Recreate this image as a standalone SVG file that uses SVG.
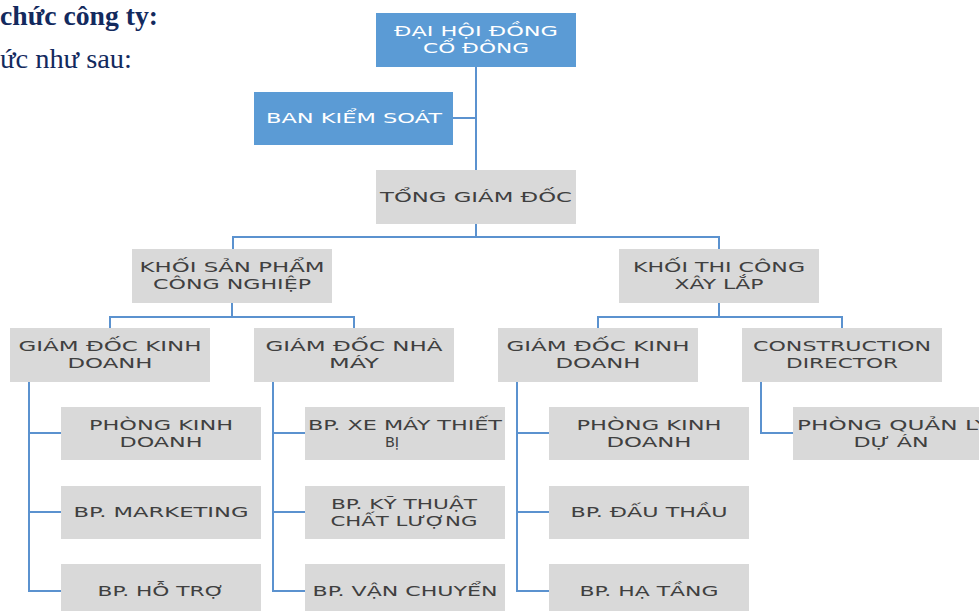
<svg xmlns="http://www.w3.org/2000/svg" width="979" height="611" viewBox="0 0 979 611">
<style>
.blue{fill:#5B9BD5}
.gray{fill:#D9D9D9}
.t{font-family:"DejaVu Sans","Liberation Sans",sans-serif;font-size:14.5px;text-anchor:middle;fill:#404040}
.w{fill:#FFFFFF}
.c{fill:none;stroke:#5B92CF;stroke-width:2}
.h1{font-family:"Liberation Serif",serif;font-weight:bold;font-size:28px;fill:#132A5E}
.h2{font-family:"Liberation Serif",serif;font-size:28px;fill:#132A5E}
</style>
<rect width="979" height="611" fill="#FFFFFF"/>
<g id="heading">
<text class="h1" x="0" y="25" textLength="158" lengthAdjust="spacingAndGlyphs">chức công ty:</text>
<text class="h2" x="0" y="68" textLength="132" lengthAdjust="spacingAndGlyphs">ức như sau:</text>
</g>
<g id="connectors">
<path class="c" d="M476 67V170M453 118H476"/>
<path class="c" d="M476 224V237M233 249V237H719V249"/>
<path class="c" d="M232 303V317M110 328V317H354V328"/>
<path class="c" d="M719 303V317M598 328V317H842V328"/>
<path class="c" d="M29 382V591H61M29 433H61M29 512H61"/>
<path class="c" d="M273 382V591H305M273 433H305M273 512H305"/>
<path class="c" d="M517 382V591H549M517 433H549M517 512H549"/>
<path class="c" d="M761 382V433H793"/>
</g>
<g id="dhdcd"><rect class="blue" x="376" y="13" width="200" height="54"/>
<text class="t w" x="476" y="36" textLength="164" lengthAdjust="spacingAndGlyphs">ĐẠI HỘI ĐỒNG</text>
<text class="t w" x="476" y="53" textLength="106" lengthAdjust="spacingAndGlyphs">CỔ ĐÔNG</text></g>
<g id="bks"><rect class="blue" x="254" y="92" width="199" height="53"/>
<text class="t w" x="354" y="123" textLength="176" lengthAdjust="spacingAndGlyphs">BAN KIỂM SOÁT</text></g>
<g id="tgd"><rect class="gray" x="376" y="170" width="200" height="54"/>
<text class="t" x="476" y="202" textLength="192" lengthAdjust="spacingAndGlyphs">TỔNG GIÁM ĐỐC</text></g>
<g id="kspcn"><rect class="gray" x="132" y="249" width="200" height="54"/>
<text class="t" x="232" y="272" textLength="185" lengthAdjust="spacingAndGlyphs">KHỐI SẢN PHẨM</text>
<text class="t" x="232" y="289" textLength="158" lengthAdjust="spacingAndGlyphs">CÔNG NGHIỆP</text></g>
<g id="ktcxl"><rect class="gray" x="619" y="249" width="200" height="54"/>
<text class="t" x="719" y="272" textLength="172" lengthAdjust="spacingAndGlyphs">KHỐI THI CÔNG</text>
<text class="t" x="719" y="289" textLength="89" lengthAdjust="spacingAndGlyphs">XÂY LẮP</text></g>
<g id="gdkd1"><rect class="gray" x="10" y="328" width="200" height="54"/>
<text class="t" x="110" y="351" textLength="183" lengthAdjust="spacingAndGlyphs">GIÁM ĐỐC KINH</text>
<text class="t" x="110" y="368" textLength="85" lengthAdjust="spacingAndGlyphs">DOANH</text></g>
<g id="gdnm"><rect class="gray" x="254" y="328" width="200" height="54"/>
<text class="t" x="354" y="351" textLength="177" lengthAdjust="spacingAndGlyphs">GIÁM ĐỐC NHÀ</text>
<text class="t" x="354" y="368" textLength="50" lengthAdjust="spacingAndGlyphs">MÁY</text></g>
<g id="gdkd2"><rect class="gray" x="498" y="328" width="200" height="54"/>
<text class="t" x="598" y="351" textLength="183" lengthAdjust="spacingAndGlyphs">GIÁM ĐỐC KINH</text>
<text class="t" x="598" y="368" textLength="85" lengthAdjust="spacingAndGlyphs">DOANH</text></g>
<g id="cd"><rect class="gray" x="742" y="328" width="200" height="54"/>
<text class="t" x="842" y="351" textLength="178" lengthAdjust="spacingAndGlyphs">CONSTRUCTION</text>
<text class="t" x="842" y="368" textLength="112" lengthAdjust="spacingAndGlyphs">DIRECTOR</text></g>
<g id="pkd1"><rect class="gray" x="61" y="407" width="200" height="53"/>
<text class="t" x="161" y="430" textLength="144" lengthAdjust="spacingAndGlyphs">PHÒNG KINH</text>
<text class="t" x="161" y="447" textLength="83" lengthAdjust="spacingAndGlyphs">DOANH</text></g>
<g id="mkt"><rect class="gray" x="61" y="486" width="200" height="53"/>
<text class="t" x="161" y="517" textLength="175" lengthAdjust="spacingAndGlyphs">BP. MARKETING</text></g>
<g id="ht"><rect class="gray" x="61" y="564" width="200" height="54"/>
<text class="t" x="161" y="596" textLength="127" lengthAdjust="spacingAndGlyphs">BP. HỖ TRỢ</text></g>
<g id="xmtb"><rect class="gray" x="305" y="407" width="200" height="53"/>
<text class="t" x="405" y="430" textLength="194" lengthAdjust="spacingAndGlyphs">BP. XE MÁY THIẾT</text>
<text class="t" x="392" y="447">BỊ</text></g>
<g id="ktcl"><rect class="gray" x="305" y="486" width="200" height="53"/>
<text class="t" x="404" y="509" textLength="146" lengthAdjust="spacingAndGlyphs">BP. KỸ THUẬT</text>
<text class="t" x="404" y="526" textLength="147" lengthAdjust="spacingAndGlyphs">CHẤT LƯỢNG</text></g>
<g id="vc"><rect class="gray" x="305" y="564" width="200" height="54"/>
<text class="t" x="405" y="596" textLength="185" lengthAdjust="spacingAndGlyphs">BP. VẬN CHUYỂN</text></g>
<g id="pkd2"><rect class="gray" x="549" y="407" width="200" height="53"/>
<text class="t" x="649" y="430" textLength="145" lengthAdjust="spacingAndGlyphs">PHÒNG KINH</text>
<text class="t" x="649" y="447" textLength="85" lengthAdjust="spacingAndGlyphs">DOANH</text></g>
<g id="dt"><rect class="gray" x="549" y="486" width="200" height="53"/>
<text class="t" x="649" y="517" textLength="157" lengthAdjust="spacingAndGlyphs">BP. ĐẤU THẦU</text></g>
<g id="hta"><rect class="gray" x="549" y="564" width="200" height="54"/>
<text class="t" x="649" y="596" textLength="139" lengthAdjust="spacingAndGlyphs">BP. HẠ TẦNG</text></g>
<g id="pqlda"><rect class="gray" x="793" y="407" width="200" height="53"/>
<text class="t" x="893" y="430" textLength="192" lengthAdjust="spacingAndGlyphs">PHÒNG QUẢN LÝ</text>
<text class="t" x="891" y="447" textLength="75" lengthAdjust="spacingAndGlyphs">DỰ ÁN</text></g>
</svg>
